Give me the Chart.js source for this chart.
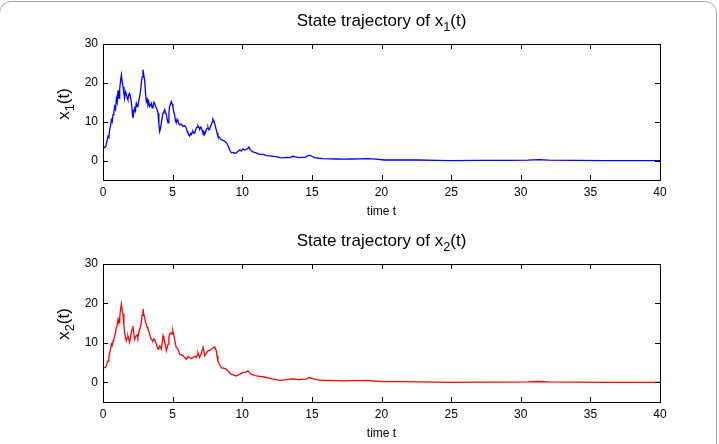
<!DOCTYPE html>
<html>
<head>
<meta charset="utf-8">
<script src="https://cdn.jsdelivr.net/npm/chart.js@4.4.1/dist/chart.umd.min.js"></script>
<style>
  html, body { margin: 0; padding: 0; background: #fff; }
  body { width: 719px; height: 444px; position: relative; overflow: hidden;
         font-family: "Liberation Sans", Arial, Helvetica, sans-serif; color: #000; }
  .frame { position: absolute; left: -1px; top: 1px; width: 718px; height: 480px; box-sizing: border-box;
           border: 1px solid #a8a8a8; border-radius: 12px; }
  .box { position: absolute; left: 0; width: 719px; height: 222px; }
  .title { position: absolute; left: 0; width: 763px; text-align: center; font-size: 17px; line-height: 17px; white-space: nowrap; }
  .ylab { position: absolute; font-size: 17px; line-height: 17px; white-space: nowrap;
          transform: translate(-50%, -50%) rotate(-90deg); }
  sub { font-size: 75%; vertical-align: -5px; line-height: 0; }
</style>
</head>
<body>
<div class="frame"></div>
<div class="box" style="top:0"><canvas id="c1" width="719" height="222"></canvas></div>
<div class="box" style="top:222px"><canvas id="c2" width="719" height="222"></canvas></div>
<div class="title" style="top:12px">State trajectory of x<sub>1</sub>(t)</div>
<div class="title" style="top:232px">State trajectory of x<sub>2</sub>(t)</div>
<div class="ylab" style="left:63px; top:104px">x<sub>1</sub>(t)</div>
<div class="ylab" style="left:63px; top:324px">x<sub>2</sub>(t)</div>
<script>
// values (time t, state value)
const t1 = [0, 0.1, 0.2, 0.3, 0.36, 0.42, 0.48, 0.54, 0.6, 0.66, 0.72, 0.78, 0.84, 0.9, 0.96, 1.02, 1.08, 1.12, 1.15, 1.2,
  1.26, 1.32, 1.38, 1.44, 1.5, 1.55, 1.61, 1.67, 1.73, 1.79, 1.85, 1.91, 1.97, 2.03, 2.09, 2.15, 2.21, 2.27, 2.33, 2.39,
  2.45, 2.5, 2.57, 2.63, 2.69, 2.75, 2.81, 2.87, 2.93, 2.99, 3.05, 3.11, 3.17, 3.23, 3.29, 3.35, 3.41, 3.47, 3.53, 3.59,
  3.65, 3.71, 3.77, 3.83, 3.89, 3.95, 4.01, 4.07, 4.13, 4.19, 4.25, 4.31, 4.37, 4.43, 4.49, 4.55, 4.61, 4.67, 4.73, 4.78,
  4.84, 4.9, 4.96, 5.02, 5.08, 5.14, 5.2, 5.26, 5.32, 5.38, 5.44, 5.5, 5.62, 5.74, 5.86, 5.98, 6.04, 6.1, 6.16, 6.22,
  6.28, 6.34, 6.4, 6.46, 6.52, 6.58, 6.64, 6.7, 6.76, 6.82, 6.88, 6.94, 7.0, 7.06, 7.12, 7.18, 7.24, 7.3, 7.36, 7.42,
  7.48, 7.54, 7.6, 7.66, 7.72, 7.78, 7.84, 7.89, 7.95, 8.01, 8.07, 8.13, 8.19, 8.25, 8.37, 8.49, 8.61, 8.73, 8.85, 8.95,
  9.04, 9.12, 9.21, 9.35, 9.45, 9.57, 9.7, 9.81, 9.93, 10.05, 10.17, 10.29, 10.4, 10.48, 10.56, 10.65, 10.8, 11, 11.25, 11.5,
  11.75, 11.97, 12.2, 12.44, 12.7, 12.9, 13.15, 13.4, 13.65, 13.9, 14.1, 14.3, 14.5, 14.7, 14.85, 15.0, 15.2, 15.5, 15.8, 16.3,
  16.8, 17.3, 17.8, 18.4, 19, 19.6, 20.2, 21.4, 22.6, 24, 25, 27, 29, 30.5, 31.3, 32, 34, 36, 38, 40];
const x1 = [2.9, 3.4, 3.6, 5.2, 6.3, 6.0, 8, 8.8, 10.5, 10.0, 11.8, 12.5, 13.9, 13.2, 16, 15.0, 18.1, 17.0, 16, 18.5,
  20.5, 22, 20.2, 19, 17.2, 16, 17.8, 17.3, 16.2, 15.6, 17.0, 17.3, 16.3, 15.2, 13.0, 10.9, 12.4, 13.5, 12.8, 14.7,
  14.0, 13.9, 15.5, 16.4, 17.8, 19.8, 21.5, 23.4, 22.0, 20.7, 17.5, 15.2, 15.8, 14.3, 15.0, 13.9, 14.2, 14.7, 13.6, 13.9,
  15.0, 14.7, 14.0, 13.5, 13.0, 12.2, 9.5, 7.5, 8.3, 9.7, 11.0, 12.2, 12.6, 13.1, 12.3, 11.8, 10.5, 9.7, 12.0, 13.9,
  14.4, 15.2, 14.6, 13.9, 12.5, 11.8, 10.3, 9.7, 10.6, 10.1, 9.6, 9.2, 9.4, 8.8, 9.0, 8.4, 7.6, 7.1, 6.6, 6.3,
  6.9, 6.7, 7.3, 7.5, 7.0, 7.1, 7.8, 8.4, 8.6, 9, 8.6, 8, 8.6, 8.4, 7.8, 7.1, 7.4, 6.7, 7.2, 8,
  8.3, 8.6, 7.9, 8.1, 8.8, 9.2, 9.9, 10.7, 10.3, 9.7, 8.8, 8, 7.1, 6.3, 5.9, 5.4, 5.2, 5, 4.6, 4.0,
  3.3, 2.6, 2, 2.1, 1.9, 2, 2.4, 2.7, 2.5, 3, 2.7, 2.9, 3.1, 3.5, 2.9, 2.5, 2.2, 2, 1.6, 1.6,
  1.3, 1.2, 1.1, 1.0, 0.75, 0.7, 0.8, 0.75, 1.1, 0.9, 0.75, 0.8, 0.8, 1.2, 1.4, 1.1, 0.75, 0.6, 0.5, 0.45,
  0.4, 0.35, 0.4, 0.45, 0.5, 0.35, 0.15, 0.15, 0.15, 0.05, 0.0, 0.05, 0.05, 0.1, 0.25, 0.1, 0.05, 0.0, 0.0, 0.0];

const t2 = [0, 0.1, 0.2, 0.3, 0.36, 0.42, 0.48, 0.54, 0.6, 0.66, 0.72, 0.78, 0.84, 0.9, 0.96, 1.02, 1.08, 1.12, 1.15, 1.2,
  1.26, 1.32, 1.38, 1.44, 1.5, 1.55, 1.61, 1.67, 1.73, 1.79, 1.85, 1.91, 1.97, 2.03, 2.09, 2.15, 2.21, 2.27, 2.33, 2.39,
  2.45, 2.5, 2.57, 2.63, 2.69, 2.75, 2.81, 2.87, 2.93, 2.99, 3.05, 3.11, 3.17, 3.23, 3.29, 3.35, 3.41, 3.47, 3.53, 3.59,
  3.65, 3.71, 3.77, 3.83, 3.89, 3.95, 4.01, 4.07, 4.13, 4.19, 4.25, 4.31, 4.37, 4.43, 4.49, 4.55, 4.61, 4.67, 4.73, 4.78,
  4.84, 4.9, 4.96, 5.02, 5.08, 5.14, 5.2, 5.26, 5.32, 5.38, 5.44, 5.5, 5.62, 5.74, 5.86, 5.98, 6.1, 6.22, 6.34, 6.46,
  6.58, 6.7, 6.76, 6.82, 6.88, 6.94, 7.06, 7.12, 7.18, 7.24, 7.3, 7.42, 7.54, 7.66, 7.78, 7.9, 8.01, 8.07, 8.13, 8.19,
  8.25, 8.37, 8.49, 8.61, 8.73, 8.85, 9.04, 9.21, 9.4, 9.57, 9.8, 10.05, 10.25, 10.41, 10.55, 10.65, 10.8, 11, 11.25, 11.5,
  11.85, 12.2, 12.45, 12.7, 13.05, 13.4, 13.7, 14.0, 14.3, 14.6, 14.8, 15.0, 15.3, 15.8, 16.3, 16.8, 17.3, 17.8, 18.4, 19,
  19.6, 20.2, 21.4, 22.6, 24, 25, 27, 29, 30.5, 31.3, 32, 34, 36, 38, 40];
const x2 = [3.6, 3.7, 3.8, 4.9, 5.4, 6.4, 7.5, 8.2, 9.7, 9.3, 10.5, 10.9, 11.8, 12.5, 13.9, 14.5, 16, 15.4, 15.2, 16.5,
  18.4, 19.8, 18.2, 17.3, 14.5, 12.6, 11.6, 10.5, 11.2, 11.8, 11.0, 10.1, 11.3, 12.6, 13.5, 14.3, 12.4, 10.9, 11.5, 11.8,
  12.0, 11.4, 12.5, 13.5, 14.0, 15.2, 17.0, 18.6, 17.3, 16.4, 15.2, 14.7, 14.0, 13.5, 12.9, 12.2, 11.5, 10.9, 10.6, 10.5,
  11.0, 10.9, 10.2, 9.7, 9.0, 8.4, 8.8, 9.2, 8.9, 8.4, 10.0, 11.8, 11.0, 10.5, 9.2, 8, 8.8, 9.7, 11.2, 12.2,
  12.4, 12.6, 12.2, 13, 12.0, 10.9, 9.8, 8.8, 8.6, 8.4, 7.8, 7.1, 7.0, 6.7, 6.3, 5.8, 6.5, 6.3, 6.0, 6.3,
  6.6, 6.3, 6.9, 7.5, 6.9, 6.3, 7.3, 8.2, 9.2, 8.0, 6.7, 7.4, 8, 8.1, 8.4, 8.7, 9, 8.6, 8, 6.7,
  5.4, 4.5, 3.7, 3.6, 3.5, 3.3, 2.6, 2, 1.8, 1.6, 2.0, 2.5, 2.6, 2.9, 2.4, 2, 1.9, 1.6, 1.5, 1.4,
  1.1, 0.8, 0.65, 0.5, 0.6, 0.8, 0.85, 0.7, 0.75, 0.8, 1.2, 1.0, 0.7, 0.5, 0.45, 0.4, 0.35, 0.4, 0.4, 0.45,
  0.3, 0.15, 0.15, 0.1, 0.05, 0.0, 0.05, 0.05, 0.1, 0.2, 0.1, 0.05, 0.0, 0.0, 0.0];

const xTicks = [0, 5, 10, 15, 20, 25, 30, 35, 40];
const yTicks = [0, 10, 20, 30];

Chart.defaults.font.family = '"Liberation Sans", Arial, Helvetica, sans-serif';
Chart.defaults.color = '#000';

// MATLAB-like box with inward tick marks
const boxTicks = {
  id: 'boxTicks',
  afterDraw(chart) {
    const { ctx, chartArea: a, scales } = chart;
    ctx.save();
    ctx.strokeStyle = '#000';
    ctx.lineWidth = 1;
    ctx.beginPath();
    xTicks.forEach(v => {
      const px = Math.round(scales.x.getPixelForValue(v)) + 0.5;
      ctx.moveTo(px, a.bottom); ctx.lineTo(px, a.bottom - 5);
      ctx.moveTo(px, a.top); ctx.lineTo(px, a.top + 5);
    });
    yTicks.forEach(v => {
      const py = Math.round(scales.y.getPixelForValue(v)) + 0.5;
      ctx.moveTo(a.left, py); ctx.lineTo(a.left + 5, py);
      ctx.moveTo(a.right, py); ctx.lineTo(a.right - 5, py);
    });
    ctx.stroke();
    ctx.strokeRect(Math.round(a.left) + 0.5, Math.round(a.top) + 0.5,
      Math.round(a.right - a.left), Math.round(a.bottom - a.top));
    ctx.restore();
  }
};

function makeChart(id, ts, vals, color, topPad) {
  new Chart(document.getElementById(id), {
    type: 'line',
    data: {
      datasets: [{
        data: ts.map((t, i) => ({ x: t, y: vals[i] })),
        borderColor: color,
        borderWidth: 1.3,
        pointRadius: 0,
        tension: 0,
        fill: false
      }]
    },
    options: {
      responsive: false,
      animation: false,
      layout: { padding: { left: 63, right: 59, top: topPad, bottom: 2 } },
      plugins: { legend: { display: false }, tooltip: { enabled: false } },
      scales: {
        x: {
          type: 'linear', min: 0, max: 40,
          afterBuildTicks: s => { s.ticks = xTicks.map(v => ({ value: v })); },
          afterFit: s => { s.height = 40; },
          grid: { display: false, drawTicks: false },
          border: { display: false },
          ticks: { font: { size: 12 }, padding: 5, maxRotation: 0 },
          title: { display: true, text: 'time t', font: { size: 12 }, padding: { top: 0, bottom: 1 } }
        },
        y: {
          type: 'linear', min: -5, max: 30,
          afterBuildTicks: s => { s.ticks = yTicks.map(v => ({ value: v })); },
          afterFit: s => { s.width = 40; },
          grid: { display: false, drawTicks: false },
          border: { display: false },
          ticks: { font: { size: 12 }, padding: 5 }
        }
      }
    },
    plugins: [boxTicks]
  });
}

makeChart('c1', t1, x1, '#0000ff', 44);
makeChart('c2', t2, x2, '#ff0000', 42);
</script>
</body>
</html>
